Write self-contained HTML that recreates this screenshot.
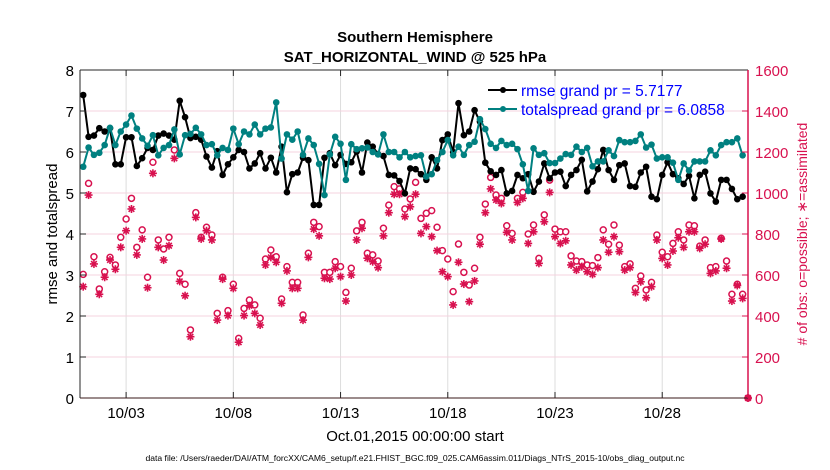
<!DOCTYPE html>
<html><head><meta charset="utf-8">
<style>
body{margin:0;background:#fff;}
svg{display:block;font-family:"Liberation Sans",Arial,sans-serif;}
</style></head>
<body>
<svg id="chart" width="830" height="470" viewBox="0 0 830 470">
<text x="415" y="42" text-anchor="middle" font-size="15" font-weight="bold">Southern Hemisphere</text>
<text x="415" y="62" text-anchor="middle" font-size="15" font-weight="bold">SAT_HORIZONTAL_WIND @ 525 hPa</text>
<g id="grid"></g>
<g id="obs"></g>
<g id="lines"></g>
<g id="axes"></g>
<g>
 <g>
  <line x1="488" y1="90" x2="517" y2="90" stroke="#000" stroke-width="2"/>
  <circle cx="503" cy="90" r="3" fill="#000"/>
  <text x="521" y="96" font-size="15.5" fill="#0000ff">rmse grand pr = 5.7177</text>
 </g>
 <g>
  <line x1="488" y1="109" x2="517" y2="109" stroke="#008080" stroke-width="2"/>
  <circle cx="503" cy="109" r="3" fill="#008080"/>
  <text x="521" y="115" font-size="15.5" fill="#0000ff">totalspread grand pr = 6.0858</text>
 </g>
</g>
<text x="415" y="441" text-anchor="middle" font-size="15">Oct.01,2015 00:00:00 start</text>
<text transform="translate(57,234) rotate(-90)" text-anchor="middle" font-size="15">rmse and totalspread</text>
<text transform="translate(807,234) rotate(-90)" text-anchor="middle" font-size="14" fill="#d8114f"># of obs: o=possible; ∗=assimilated</text>
<text x="415" y="461" text-anchor="middle" font-size="8.6">data file: /Users/raeder/DAI/ATM_forcXX/CAM6_setup/f.e21.FHIST_BGC.f09_025.CAM6assim.011/Diags_NTrS_2015-10/obs_diag_output.nc</text>
</svg>
<script>
const rmse=[7.39,6.37,6.4,6.58,6.5,6.58,5.7,5.7,6.36,6.36,5.66,5.85,6.1,6.05,6.4,6.45,6.4,6.3,7.25,6.85,6.34,6.37,6.3,5.89,5.62,6.02,5.44,5.7,5.87,6.05,6.0,5.6,
5.72,5.97,5.6,5.86,5.5,6.13,5.02,5.46,5.5,5.86,5.8,4.71,4.71,5.86,5.97,5.68,5.93,5.71,5.75,6.01,5.5,6.23,6.13,5.95,5.9,5.44,5.43,5.29,4.99,5.6,5.58,
5.46,5.32,5.87,5.6,6.29,6.43,6.0,7.19,6.41,6.5,7.02,6.74,5.74,5.53,5.44,5.56,4.99,5.05,5.44,5.36,5.46,5.03,5.28,5.72,5.36,5.5,5.52,5.17,5.44,5.56,5.81,5.04,
5.28,5.58,6.05,5.56,5.32,5.68,5.72,5.17,5.15,5.5,5.64,4.91,4.85,5.44,5.75,5.46,5.36,5.22,5.42,4.87,5.44,5.52,4.99,4.79,5.32,5.32,5.1,4.85,4.91];
const spread=[5.64,6.11,5.93,5.98,6.17,6.59,6.17,6.5,6.67,6.89,6.57,6.33,6.15,6.41,5.92,6.1,6.17,6.55,5.94,6.41,6.44,6.59,6.43,6.17,6.19,5.92,6.1,6.05,6.57,6.19,6.5,6.43,
6.67,6.43,6.57,6.6,7.21,5.84,6.43,6.3,6.5,5.93,6.33,6.17,5.71,4.95,5.94,6.37,6.2,5.32,6.19,6.07,6.09,6.11,6.0,5.94,6.43,6.0,6.0,5.87,6.0,5.87,5.9,
5.92,5.4,5.46,5.8,6.0,6.29,5.92,6.13,5.93,6.17,6.25,6.8,6.56,6.2,6.1,6.27,6.17,6.2,6.07,5.7,5.05,6.09,5.93,5.97,5.73,5.73,5.84,5.95,5.93,6.13,6.0,6.1,
5.65,5.77,5.77,6.04,5.9,6.29,6.24,6.24,6.27,6.43,6.11,6.18,5.84,5.87,5.87,5.74,5.32,5.72,5.55,5.77,5.77,5.77,6.04,5.92,6.17,6.24,6.24,6.33,5.92];
const possible=[603,1047,689,532,616,686,649,784,873,974,735,820,589,1150,771,727,784,1210,608,555,332,904,784,833,795,413,589,426,555,291,437,478,
454,389,678,722,689,483,641,564,564,405,706,857,836,613,613,665,641,515,633,815,857,706,698,668,828,941,1031,1020,922,971,1052,
876,901,914,833,719,678,519,751,613,551,633,784,946,1076,990,974,840,803,974,1003,800,844,681,893,1063,824,811,811,693,668,665,
649,646,685,820,750,844,746,641,654,535,595,527,564,795,711,689,754,811,771,844,840,741,771,636,641,779,668,506,555,506,0];
const assimilated=[543,990,654,506,589,673,628,735,816,922,698,776,538,1096,735,673,743,1169,569,499,299,881,776,816,771,380,580,402,535,272,402,450,
413,356,649,686,662,462,620,535,535,380,686,824,791,584,580,633,592,473,600,771,828,682,665,636,791,904,994,994,885,933,994,
803,836,787,719,616,592,454,662,556,470,571,750,904,1020,966,949,808,771,954,974,754,811,657,860,1003,787,754,767,649,624,641,
616,603,636,771,711,787,714,624,636,515,567,489,543,771,681,649,717,782,735,811,811,730,750,608,620,776,633,473,549,486,0];
const xTicks=[2,7,12,17,22,27];
const xTickLabels=['10/03','10/08','10/13','10/18','10/23','10/28'];
const yTicks=[0,1,2,3,4,5,6,7,8];
const y2Ticks=[0,200,400,600,800,1000,1200,1400,1600];

const L=80,R=748,T=70,B=398;
const t0=-0.15,t1=31.0;
const xS=t=>L+(t-t0)/(t1-t0)*(R-L);
const yS=v=>B-v/8*(B-T);
const y2S=v=>B-v/1600*(B-T);
const NS='http://www.w3.org/2000/svg';
function mk(tag,attrs,parent){const e=document.createElementNS(NS,tag);for(const k in attrs)e.setAttribute(k,attrs[k]);parent.appendChild(e);return e;}
const grid=document.getElementById('grid'),axes=document.getElementById('axes'),obs=document.getElementById('obs'),lines=document.getElementById('lines');
const PINK='#d8114f';
xTicks.forEach((d,i)=>{
  const x=xS(d);
  const g=mk('line',{x1:x,x2:x,y1:T,y2:B,stroke:'#dcdcdc','stroke-width':1},grid);
  
  
  mk('line',{x1:x,x2:x,y1:B,y2:B-6,stroke:'#262626'},axes);
  mk('line',{x1:x,x2:x,y1:T,y2:T+6,stroke:'#262626'},axes);
  const t=mk('text',{x:x,y:418,'text-anchor':'middle','font-size':15},axes);
  t.textContent=xTickLabels[i];
  
  
});
y2Ticks.forEach(v=>{
  const y=y2S(v);
  if(v>0&&v<1600){const g=mk('line',{x1:L,x2:R,y1:y,y2:y,stroke:'#f5d3df','stroke-width':1},grid);
  
  }
  mk('line',{x1:R,x2:R-6,y1:y,y2:y,stroke:PINK},axes);
  const t=mk('text',{x:755,y:y+6,'font-size':15,fill:PINK},axes);
  t.textContent=v;
  
  
});
yTicks.forEach(v=>{
  const y=yS(v);
  mk('line',{x1:L,x2:L+6,y1:y,y2:y,stroke:'#262626'},axes);
  const t=mk('text',{x:74,y:y+6,'text-anchor':'end','font-size':15},axes);
  t.textContent=v;
  
  
});
mk('line',{x1:L,x2:R,y1:T,y2:T,stroke:'#262626'},axes);
mk('line',{x1:L,x2:R,y1:B,y2:B,stroke:'#3a1a1a'},axes);
mk('line',{x1:L,x2:L,y1:T,y2:B,stroke:'#262626'},axes);
mk('line',{x1:R,x2:R,y1:T,y2:B,stroke:PINK,'stroke-width':1.5},axes);

function star(cx,cy,p){
  const g=mk('g',{stroke:PINK,'stroke-width':1.6},p);
  for(let k=0;k<4;k++){const a=k*Math.PI/4;const dx=4*Math.cos(a),dy=4*Math.sin(a);
    mk('line',{x1:cx-dx,y1:cy-dy,x2:cx+dx,y2:cy+dy},g);}
  return g;
}
possible.forEach((v,i)=>{
  const x=xS(i/4),y=y2S(v);
  const c=mk('circle',{cx:x,cy:y,r:3,fill:'#fff',stroke:PINK,'stroke-width':1.5},obs);
  
  
});
assimilated.forEach((v,i)=>{
  const g=star(xS(i/4),y2S(v),obs);
  
  
});
function series(arr,color,name){
  const pts=arr.map((v,i)=>xS(i/4).toFixed(1)+','+yS(v).toFixed(1)).join(' ');
  const pl=mk('polyline',{points:pts,fill:'none',stroke:color,'stroke-width':2,'stroke-linejoin':'round'},lines);
  
  
  arr.forEach((v,i)=>{
    const c=mk('circle',{cx:xS(i/4),cy:yS(v),r:3.3,fill:color},lines);
    
    
  });
}
series(rmse,'#000','rmse');
series(spread,'#008080','totalspread');
</script>
</body></html>
